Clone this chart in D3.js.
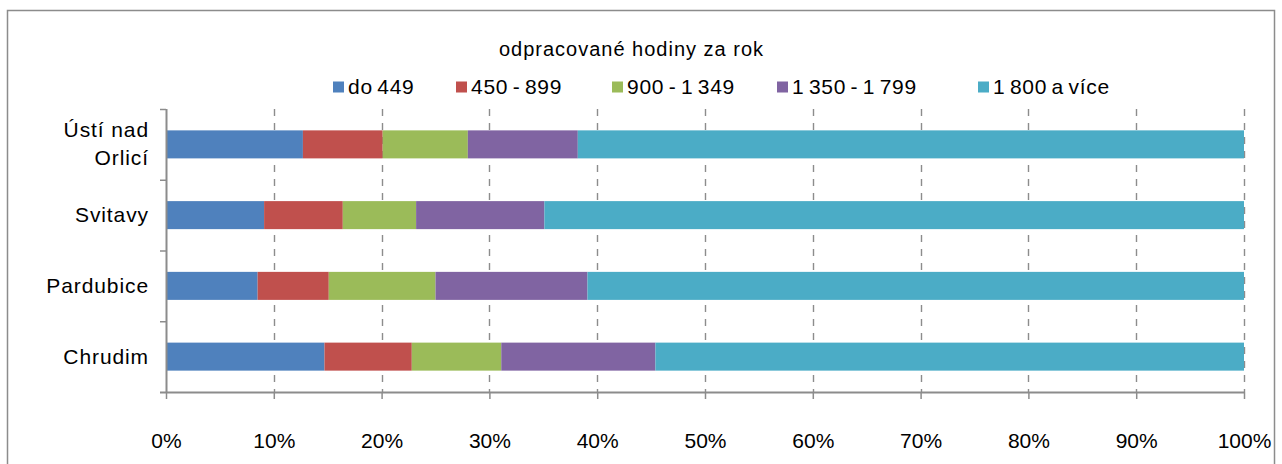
<!DOCTYPE html>
<html><head><meta charset="utf-8">
<script src="https://cdn.jsdelivr.net/npm/d3@7"></script>
<style>body{margin:0;background:#fff}svg{display:block;font-family:"Liberation Sans",Arial,sans-serif}</style>
</head><body><svg id="c" width="1282" height="464"></svg>
<script>
const categories = ["Ústí nad|Orlicí", "Svitavy", "Pardubice", "Chrudim"];
const seriesNames = ["do 449", "450 - 899", "900 - 1 349", "1 350 - 1 799", "1 800 a více"];
const s1 = [12.7, 9.1, 8.5, 14.7];
const s2 = [7.4, 7.3, 6.6, 8.1];
const s3 = [7.9, 6.8, 9.9, 8.3];
const s4 = [10.2, 11.9, 14.1, 14.3];
const s5 = [61.8, 64.9, 60.9, 54.6];
const colors = ["#4F81BD", "#C0504D", "#9BBB59", "#8064A2", "#4BACC6"];
const tickValues = [0,10,20,30,40,50,60,70,80,90,100];
const title = "odpracované hodiny za rok";

const svg = d3.select("#c");
svg.append("rect").attr("x",7.5).attr("y",10.5).attr("width",1267).attr("height",470)
  .attr("fill","none").attr("stroke","#8c8c8c").attr("stroke-width",1.5);

const pL=166, pR=1244, pT=109, pB=392;
const x = d3.scaleLinear().domain([0,100]).range([pL,pR]);
const y = d3.scaleBand().domain(categories).range([pT,pB]).paddingInner(0.604).paddingOuter(0.302);

// grid
svg.append("g").selectAll("line").data(tickValues.slice(1)).join("line")
  .attr("x1",d=>Math.round(x(d))+0.5).attr("x2",d=>Math.round(x(d))+0.5)
  .attr("y1",pT).attr("y2",pB)
  .attr("stroke","#8c8c8c").attr("stroke-width",1.4).attr("stroke-dasharray","7,7");

const all = [s1,s2,s3,s4,s5];
const rows = categories.map((c,i)=>{const o={cat:c}; all.forEach((s,j)=>o["k"+j]=s[i]); return o;});
const stack = d3.stack().keys(all.map((_,j)=>"k"+j))(rows);
svg.append("g").selectAll("g").data(stack).join("g").attr("fill",(d,i)=>colors[i])
  .selectAll("rect").data(d=>d).join("rect")
  .attr("x",d=>x(d[0])).attr("width",d=>x(d[1])-x(d[0]))
  .attr("y",d=>y(d.data.cat)).attr("height",y.bandwidth());

// axes
const ax = svg.append("g").attr("transform",`translate(0,${pB})`)
  .call(d3.axisBottom(x).tickValues(tickValues).tickFormat(d=>d+"%").tickSize(7));
ax.select(".domain").attr("stroke","#8c8c8c").attr("stroke-width",2).attr("d",`M${pL-6},0.5H${pR}`);
ax.selectAll(".tick line").attr("stroke","#8c8c8c").attr("stroke-width",1.5);
ax.selectAll("text").attr("y",56).attr("dy",null).attr("font-size",21).attr("fill","#000")
  .attr("font-family","Liberation Sans, Arial, sans-serif");

const step = y.step();
const ay = svg.append("g");
ay.append("line").attr("x1",pL+0.5).attr("x2",pL+0.5).attr("y1",pT).attr("y2",pB).attr("stroke","#8c8c8c").attr("stroke-width",2);
ay.selectAll("line.t").data(d3.range(categories.length)).join("line").attr("class","t")
  .attr("x1",pL-6).attr("x2",pL).attr("y1",(d)=>pT+d*step+0.5).attr("y2",d=>pT+d*step+0.5)
  .attr("stroke","#8c8c8c").attr("stroke-width",1.5);
categories.forEach(c=>{
  const lines=c.split("|");
  const cy=y(c)+y.bandwidth()/2;
  const t=ay.append("text").attr("text-anchor","end").attr("font-size",21).attr("letter-spacing","0.9");
  lines.forEach((l,i)=>t.append("tspan").attr("x",149).attr("y",cy+7+(i-(lines.length-1)/2)*28).text(l));
});

// title & legend
svg.append("text").attr("x",631.5).attr("y",56).attr("text-anchor","middle").attr("font-size",20).attr("letter-spacing","1").text(title);
const legX=[333,456,612,777,978];
const lg=svg.append("g").selectAll("g").data(seriesNames).join("g").attr("transform",(d,i)=>`translate(${legX[i]},87)`);
lg.append("rect").attr("x",0).attr("y",-5.5).attr("width",11).attr("height",11).attr("fill",(d,i)=>colors[i]);
lg.append("text").attr("x",15).attr("y",7).attr("font-size",21).attr("letter-spacing","0.7").attr("word-spacing","-2").text(d=>d);
</script></body></html>
